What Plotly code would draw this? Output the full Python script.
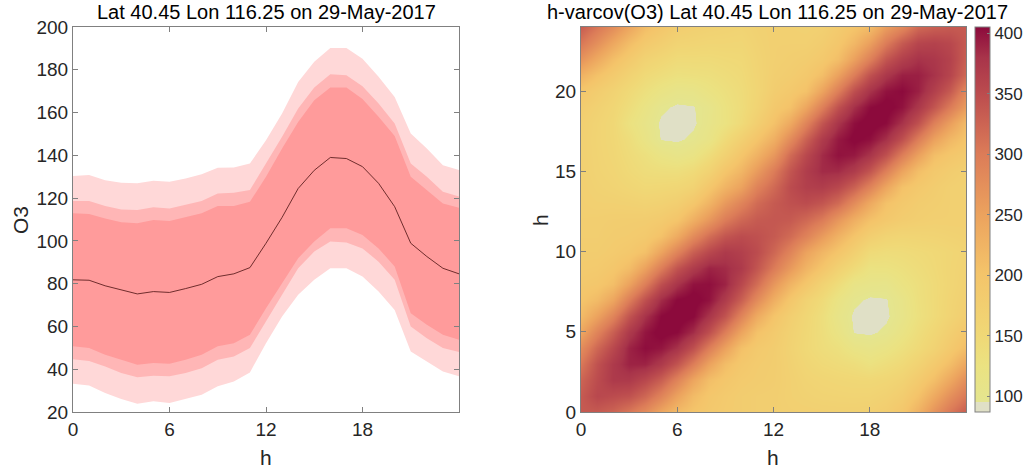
import plotly.graph_objects as go

# hourly O3 profile (h = 0..24)
hours = list(range(25))
o3_mean = [81.8, 81.6, 79.0, 77.0, 75.2, 76.3, 75.9, 77.7, 79.7, 83.3, 84.6, 87.5,
           98.9, 111.0, 124.5, 133.0, 139.0, 138.5, 134.7, 126.9, 116.0, 98.9, 92.7, 87.2, 84.6]
outer_hi = [130.3, 130.8, 128.4, 127.2, 126.9, 128.1, 127.7, 129.2, 131.2, 134.2, 134.3, 136.2,
            147.1, 159.6, 174.3, 183.7, 190.2, 190.2, 185.2, 176.7, 167.3, 150.2, 143.2, 135.4, 133.1]
mid_hi = [118.6, 118.6, 116.3, 114.7, 114.4, 115.7, 115.2, 116.8, 118.6, 122.2, 122.5, 123.8,
          136.2, 148.7, 161.9, 171.7, 177.9, 177.4, 172.3, 164.2, 154.9, 136.2, 130.0, 123.0, 120.7]
inner_hi = [112.9, 112.6, 110.5, 108.7, 108.2, 109.8, 109.3, 111.0, 112.9, 116.3, 116.3, 118.3,
            130.0, 143.2, 155.6, 165.8, 171.7, 171.7, 166.3, 158.0, 149.0, 130.0, 123.8, 117.5, 115.5]
inner_lo = [50.7, 49.9, 46.8, 44.4, 42.1, 42.9, 42.6, 44.4, 46.8, 50.7, 52.2, 56.1,
            68.5, 80.2, 91.9, 99.7, 105.9, 105.9, 102.8, 96.5, 88.0, 66.2, 60.8, 56.1, 53.8]
mid_lo = [44.7, 43.9, 41.3, 38.2, 36.2, 36.9, 36.7, 38.2, 40.5, 44.4, 46.0, 49.9,
          62.3, 74.8, 87.2, 95.0, 99.7, 99.3, 96.5, 90.3, 81.8, 60.0, 54.5, 49.9, 48.0]
outer_lo = [33.2, 32.4, 28.9, 26.1, 23.9, 25.0, 24.2, 26.1, 28.1, 32.0, 34.3, 38.5,
            52.2, 64.7, 74.8, 81.8, 87.2, 87.2, 83.3, 76.3, 67.7, 48.3, 43.6, 38.9, 36.7]

# hour-by-hour covariance matrix of O3 (rows/cols = h 0..24)
cov_o3 = [
    [335, 335, 325, 305, 280, 245, 215, 200, 190, 184, 180, 177, 175, 173, 172, 171, 170, 170, 172, 180, 195, 228, 270, 305, 332],
    [335, 355, 350, 344, 322, 290, 250, 215, 195, 186, 180, 177, 176, 170, 166, 163, 162, 161, 162, 168, 180, 205, 240, 275, 305],
    [325, 350, 372, 372, 355, 330, 290, 246, 210, 195, 185, 181, 178, 170, 162, 158, 155, 153, 152, 156, 165, 185, 210, 243, 278],
    [305, 344, 372, 390, 390, 372, 341, 298, 250, 212, 192, 183, 179, 168, 156, 148, 143, 138, 128, 138, 148, 165, 187, 212, 245],
    [280, 322, 355, 390, 403, 398, 380, 346, 297, 251, 207, 188, 180, 165, 150, 140, 132, 116, 110, 118, 132, 147, 165, 188, 212],
    [245, 290, 330, 372, 398, 410, 405, 385, 347, 298, 248, 205, 186, 168, 152, 137, 118, 94, 92, 99, 118, 138, 155, 175, 195],
    [215, 250, 290, 341, 380, 405, 412, 406, 378, 342, 290, 238, 200, 175, 155, 136, 110, 92, 86, 92, 108, 130, 145, 162, 178],
    [200, 215, 246, 298, 346, 385, 406, 410, 400, 370, 330, 280, 232, 195, 165, 145, 118, 99, 92, 94, 110, 132, 145, 160, 172],
    [190, 195, 210, 250, 297, 347, 378, 400, 402, 390, 355, 315, 265, 225, 195, 165, 140, 114, 108, 106, 122, 134, 145, 157, 168],
    [184, 186, 195, 212, 251, 298, 342, 370, 390, 385, 372, 340, 300, 262, 225, 198, 168, 145, 125, 126, 132, 140, 148, 157, 165],
    [180, 180, 185, 192, 207, 248, 290, 330, 355, 372, 365, 350, 322, 290, 250, 222, 198, 172, 145, 140, 142, 146, 150, 156, 162],
    [177, 177, 181, 183, 188, 205, 238, 280, 315, 340, 350, 345, 335, 318, 292, 260, 228, 200, 175, 162, 158, 160, 162, 165, 168],
    [175, 176, 178, 179, 180, 186, 200, 232, 265, 300, 322, 335, 338, 335, 320, 300, 265, 232, 205, 190, 180, 175, 172, 172, 172],
    [173, 170, 170, 168, 165, 168, 175, 195, 225, 262, 290, 318, 335, 345, 350, 340, 318, 280, 240, 205, 190, 180, 176, 172, 170],
    [172, 166, 162, 156, 150, 152, 155, 165, 195, 225, 250, 292, 320, 350, 365, 368, 355, 328, 290, 245, 205, 190, 180, 172, 168],
    [171, 163, 158, 148, 140, 137, 136, 145, 165, 198, 222, 260, 300, 340, 368, 385, 385, 370, 340, 295, 248, 210, 190, 180, 172],
    [170, 162, 155, 143, 132, 118, 110, 118, 140, 168, 198, 228, 265, 318, 355, 385, 400, 396, 378, 345, 297, 252, 210, 195, 185],
    [170, 161, 153, 138, 116, 94, 92, 99, 114, 145, 172, 200, 232, 280, 328, 370, 396, 408, 402, 382, 347, 298, 252, 220, 200],
    [172, 162, 152, 128, 110, 92, 86, 92, 108, 125, 145, 175, 205, 240, 290, 340, 378, 402, 412, 404, 380, 345, 295, 255, 215],
    [180, 168, 156, 138, 118, 99, 92, 94, 106, 126, 140, 162, 190, 205, 245, 295, 345, 382, 404, 410, 400, 375, 340, 300, 258],
    [195, 180, 165, 148, 132, 118, 108, 110, 122, 132, 142, 158, 180, 190, 205, 248, 297, 347, 380, 400, 405, 392, 365, 335, 285],
    [228, 205, 185, 165, 147, 138, 130, 132, 134, 140, 146, 160, 175, 180, 190, 210, 252, 298, 345, 375, 392, 392, 380, 358, 320],
    [270, 240, 210, 187, 165, 155, 145, 145, 145, 148, 150, 162, 172, 176, 180, 190, 210, 252, 295, 340, 365, 380, 375, 362, 330],
    [305, 275, 243, 212, 188, 175, 162, 160, 157, 157, 156, 165, 172, 172, 172, 180, 195, 220, 255, 300, 335, 358, 362, 355, 335],
    [332, 305, 278, 245, 212, 195, 178, 172, 168, 165, 162, 168, 172, 170, 168, 172, 185, 200, 215, 258, 285, 320, 330, 335, 335],
]

W, H = 1034, 471
FONT = "Liberation Sans, Arial, Helvetica, sans-serif"
TXT = "#262626"
LINE = "#808080"

cmap = [
    [0.0, "#e0e0c6"], [0.025, "#e0e0c6"], [0.026, "#e4e58f"],
    [0.12, "#ebe281"], [0.2, "#f0d876"], [0.36, "#f4c46a"],
    [0.51, "#eca35e"], [0.67, "#dc7c58"], [0.83, "#bb4b4e"],
    [0.92, "#a8344a"], [1.0, "#8c0a3c"],
]

fig = go.Figure()

bands = [
    (outer_hi, outer_lo, "#ffd8d8"),
    (mid_hi, mid_lo, "#ffb6b6"),
    (inner_hi, inner_lo, "#ff9b9b"),
]
for hi, lo, col in bands:
    fig.add_scatter(
        x=hours + hours[::-1], y=hi + lo[::-1],
        fill="toself", fillcolor=col, mode="lines", line=dict(width=0),
        hoverinfo="skip", xaxis="x", yaxis="y",
    )
fig.add_scatter(x=hours, y=o3_mean, mode="lines",
                line=dict(color="#4a1010", width=0.8), xaxis="x", yaxis="y")

fig.add_heatmap(
    x=hours, y=hours, z=cov_o3, zsmooth="best",
    colorscale=cmap, zmin=87, zmax=405, xaxis="x2", yaxis="y2",
    colorbar=dict(
        x=975 / W, xanchor="left", xpad=0, y=1 - 412 / H, yanchor="bottom", ypad=0,
        len=385 / H, lenmode="fraction", thickness=15,
        outlinecolor=LINE, outlinewidth=1,
        tickvals=[100, 150, 200, 250, 300, 350, 400],
        ticks="inside", ticklen=3, tickcolor=LINE,
        tickfont=dict(size=17, color=TXT, family=FONT),
    ),
)

ax_common = dict(
    showline=True, linecolor=LINE, linewidth=1, mirror="ticks",
    ticks="inside", ticklen=5, tickcolor=LINE, showgrid=False, zeroline=False,
    tickfont=dict(size=19, color=TXT, family=FONT),
)
ydom = [1 - 412 / H, 1 - 27 / H]

fig.update_layout(
    width=W, height=H,
    margin=dict(l=0, r=0, t=0, b=0, autoexpand=False),
    paper_bgcolor="white", plot_bgcolor="white",
    showlegend=False,
    font=dict(family=FONT, color=TXT),
    xaxis=dict(ax_common, domain=[73 / W, 459 / W], range=[0, 24],
               tickvals=[0, 6, 12, 18]),
    yaxis=dict(ax_common, domain=ydom, range=[20, 200], dtick=20),
    xaxis2=dict(ax_common, domain=[581 / W, 966 / W], range=[0, 24],
                tickvals=[0, 6, 12, 18], anchor="y2"),
    yaxis2=dict(ax_common, domain=ydom, range=[0, 24],
                tickvals=[0, 5, 10, 15, 20], anchor="x2"),
)

labels = [
    (266, 12, "Lat 40.45 Lon 116.25 on 29-May-2017", 0, 20, "black"),
    (777, 12, "h-varcov(O3) Lat 40.45 Lon 116.25 on 29-May-2017", 0, 20, "black"),
    (266, 457, "h", 0, 21, TXT),
    (773, 457, "h", 0, 21, TXT),
    (20, 220, "O3", -90, 21, TXT),
    (540, 220, "h", -90, 21, TXT),
]
for px, py, text, ang, size, col in labels:
    fig.add_annotation(
        x=px / W, y=1 - py / H, xref="paper", yref="paper", text=text,
        showarrow=False, textangle=ang, xanchor="center", yanchor="middle",
        font=dict(size=size, color=col, family=FONT),
    )

fig.write_html("out.html", config={"displayModeBar": False},
               post_script="document.body.style.margin = '0';")
